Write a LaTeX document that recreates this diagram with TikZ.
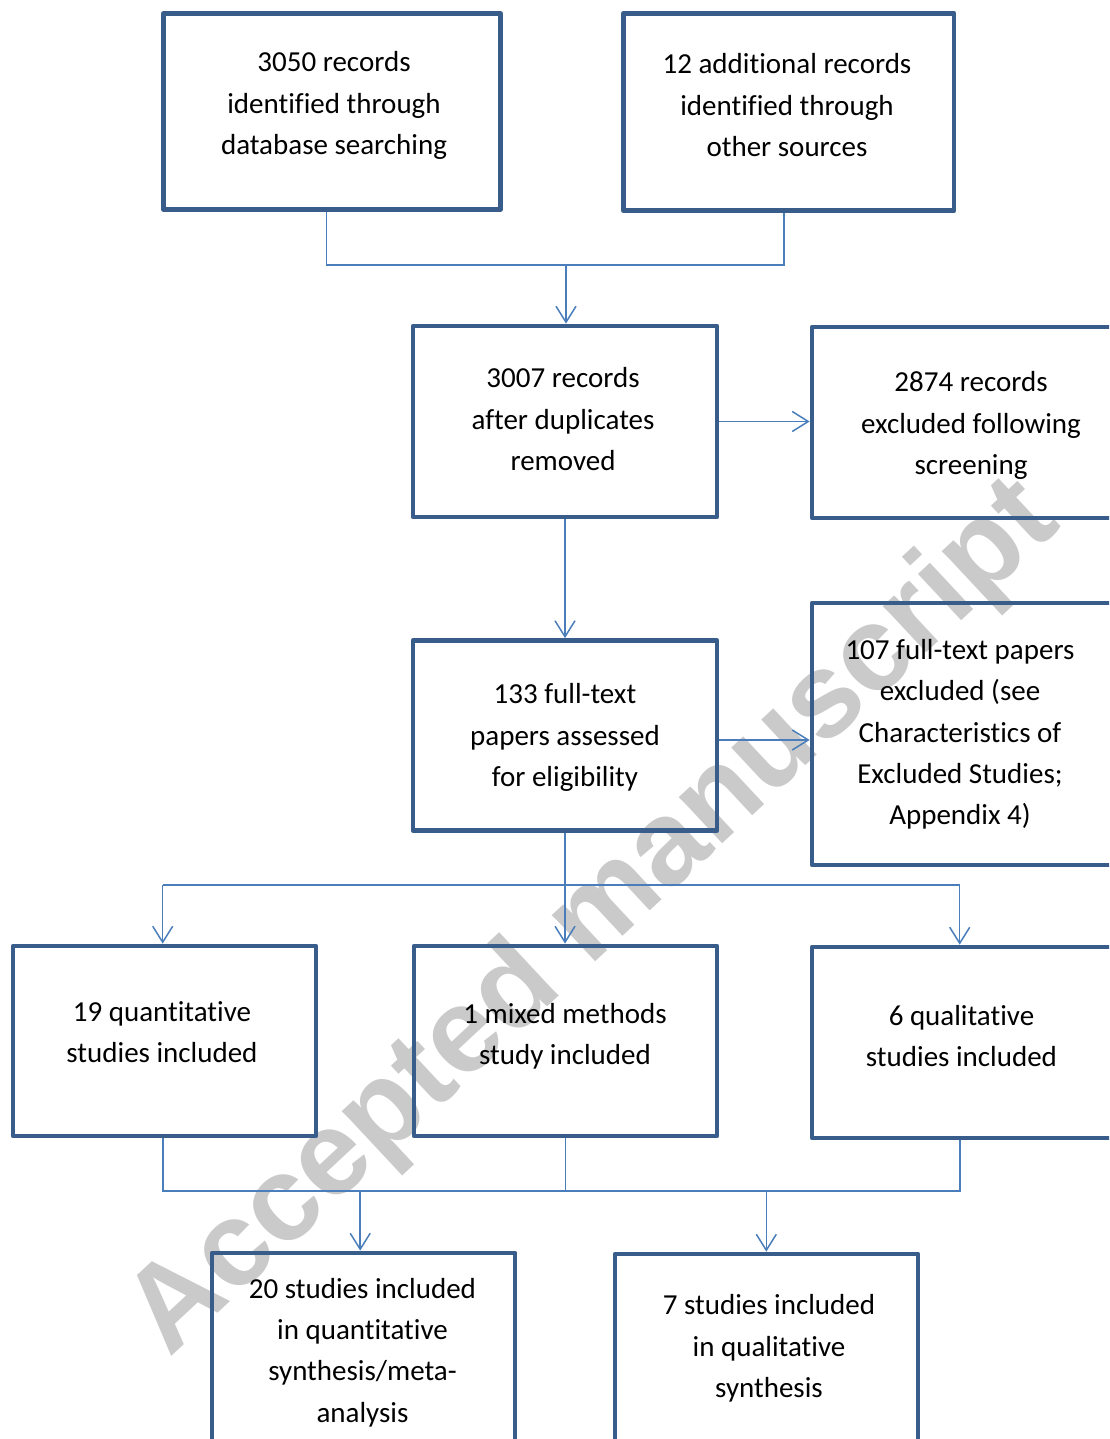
\documentclass[tikz,border=0pt]{standalone}
\usepackage{fontspec}
\setmainfont{Carlito}[Ligatures=NoCommon]
\newfontfamily\wmfont{Liberation Sans}
\usetikzlibrary{arrows.meta}
\definecolor{boxblue}{RGB}{56,93,138}
\definecolor{linkblue}{RGB}{74,126,187}
\definecolor{wmgray}{RGB}{202,202,202}
\begin{document}
\begin{tikzpicture}[x=1pt,y=-1pt,
  box/.style={draw=boxblue, line width=4.7pt, rectangle, fill=none, inner sep=0pt, line join=round},
  txt/.style={align=center, inner sep=0pt, font=\fontsize{29}{41.3}\selectfont},
  conn/.style={draw=linkblue, line width=1.5pt},
  arr/.style={conn, -{Straight Barb[length=16pt,width=20pt,line width=1.5pt]}}
]
\useasboundingbox (0,0) rectangle (1109,1439);
\begin{scope}
\clip (0,0) rectangle (1109,1439);
% watermark
\node[rotate=43, text=wmgray, inner sep=0pt, font=\wmfont\bfseries\fontsize{120}{120}\selectfont] (wm) at (595,920) {Accepted manuscript};
% boxes
\node[box, minimum width=337pt, minimum height=196pt] (A) at (332,111.4) {};
\node[box, minimum width=330.5pt, minimum height=197.5pt] (B) at (788.75,112) {};
\node[box, minimum width=304pt, minimum height=191pt] (C) at (565,421.5) {};
\node[box, minimum width=306pt, minimum height=191pt] (D) at (965,422.5) {};
\node[box, minimum width=304pt, minimum height=190pt] (E) at (565,735.5) {};
\node[box, minimum width=306pt, minimum height=262pt] (F) at (965,734) {};
\node[box, minimum width=303pt, minimum height=190pt] (G) at (164.5,1041) {};
\node[box, minimum width=303pt, minimum height=190pt] (H) at (565.5,1041) {};
\node[box, minimum width=306pt, minimum height=191pt] (I) at (965,1042.5) {};
\node[box, minimum width=303pt, minimum height=190pt] (J) at (363.6,1348) {};
\node[box, minimum width=303pt, minimum height=190pt] (K) at (766.5,1349) {};
% texts
\node[txt] (tA) at (334,105) {\strut 3050 records\\identified through\\database searching\strut};
\node[txt] (tB) at (787,107) {\strut 12 additional records\\identified through\\other sources\strut};
\node[txt] (tC) at (563,421) {\strut 3007 records\\after duplicates\\removed\strut};
\node[txt] (tD) at (971,425) {\strut 2874 records\\excluded following\\screening\strut};
\node[txt] (tE) at (565,737) {\strut 133 full-text\\papers assessed\\for eligibility\strut};
\node[txt] (tF) at (960,734) {\strut 107 full-text papers\\excluded (see\\Characteristics of\\Excluded Studies;\\Appendix 4)\strut};
\node[txt] (tG) at (162,1034) {\strut 19 quantitative\\studies included\strut};
\node[txt] (tH) at (565,1036) {\strut 1 mixed methods\\study included\strut};
\node[txt] (tI) at (961.5,1038) {\strut 6 qualitative\\studies included\strut};
\node[txt] (tJ) at (362.5,1352) {\strut 20 studies included\\in quantitative\\synthesis/meta-\\analysis\strut};
\node[txt] (tK) at (769,1348) {\strut 7 studies included\\in qualitative\\synthesis\strut};
% connectors
\coordinate (jA) at (326.7,265);
\coordinate (jB) at (784,265);
\coordinate (jC) at (566,265);
\draw[conn] (jA |- A.south) -- (jA) -- (jB) -- (jB |- B.south);
\draw[arr] (jC) -- (jC |- C.north);
\draw[arr] (C.east) -- (C.east -| D.west);
\coordinate (yEF) at (0,740);
\draw[arr] (E.east |- yEF) -- (F.west |- yEF);
\draw[arr] (C.south) -- (C.south |- E.north);
\draw[arr] (E.south) -- (E.south |- H.north);
\coordinate (b1) at (162.7,885);
\coordinate (b2) at (959.7,885);
\draw[conn] (b1) -- (b2);
\draw[arr] (b1) -- (b1 |- G.north);
\draw[arr] (b2) -- (b2 |- I.north);
\coordinate (c1) at (162.8,1191);
\coordinate (c2) at (960,1191);
\coordinate (c3) at (360.2,1191);
\coordinate (c4) at (766.3,1191);
\draw[conn] (c1 |- G.south) -- (c1) -- (c2) -- (c2 |- I.south);
\draw[conn] (H.south) -- (H.south |- c1);
\draw[arr] (c3) -- (c3 |- J.north);
\draw[arr] (c4) -- (c4 |- K.north);
\end{scope}
\end{tikzpicture}
\end{document}
